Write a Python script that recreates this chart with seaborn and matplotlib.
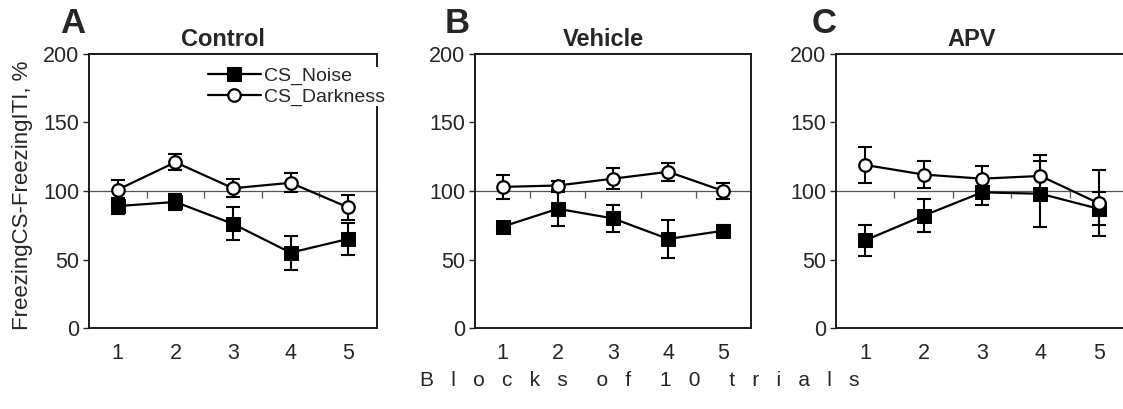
import matplotlib
matplotlib.use("Agg")
import matplotlib.pyplot as plt
import seaborn as sns
import numpy as np

# ---- data ----
blocks = [1, 2, 3, 4, 5]
panels = ["Control", "Vehicle", "APV"]
letters = ["A", "B", "C"]
series_names = ["CS_Noise", "CS_Darkness"]

control_noise = [89, 92, 76, 55, 65]
control_noise_err = [6, 6, 12, 12.5, 12]
control_dark = [101, 121, 102, 106, 88]
control_dark_err = [7, 6, 6.5, 7, 9]

vehicle_noise = [74, 87, 80, 65, 71]
vehicle_noise_err = [3, 12.5, 10, 14, 4]
vehicle_dark = [103, 104, 109, 114, 100]
vehicle_dark_err = [9, 3, 7.5, 6.5, 5.5]

apv_noise = [64, 82, 99, 98, 87]
apv_noise_err = [11.5, 12, 9.5, 24, 12]
apv_dark = [119, 112, 109, 111, 91]
apv_dark_err = [13, 10, 9, 15, 24]

yticks = [0, 50, 100, 150, 200]
boundary_ticks = [1.5, 2.5, 3.5, 4.5]
ylabel = "FreezingCS-FreezingITI, %"
xlabel = "B   l   o   c   k   s     o   f     1   0     t   r   i   a   l   s"

noise_data = [(control_noise, control_noise_err), (vehicle_noise, vehicle_noise_err), (apv_noise, apv_noise_err)]
dark_data = [(control_dark, control_dark_err), (vehicle_dark, vehicle_dark_err), (apv_dark, apv_dark_err)]

# ---- style ----
sns.set_theme(style="white")
plt.rcParams["font.family"] = ["Liberation Sans", "DejaVu Sans"]

W, H = 1123, 409
fig = plt.figure(figsize=(W / 100, H / 100), dpi=100)

# axes boxes in pixels: (left, right, top, bottom)
boxes = [(89, 377, 54, 328), (475, 751, 54, 328), (836, 1128, 54, 328)]
letter_x = [60, 445, 812]

for i, (name, box) in enumerate(zip(panels, boxes)):
    l, r, t, b = box
    ax = fig.add_axes([l / W, 1 - b / H, (r - l) / W, (b - t) / H])
    (nv, ne), (dv, de) = noise_data[i], dark_data[i]

    ax.errorbar(blocks, nv, yerr=ne, fmt="none", ecolor="black", elinewidth=1.5,
                capsize=5, capthick=1.5, zorder=2)
    ax.errorbar(blocks, dv, yerr=de, fmt="none", ecolor="black", elinewidth=1.5,
                capsize=5, capthick=1.5, zorder=2)
    sns.lineplot(x=blocks, y=nv, ax=ax, color="black", lw=1.6, marker="s",
                 markersize=9.5, markerfacecolor="black", markeredgecolor="black",
                 label=series_names[0] if i == 0 else None, legend=False, zorder=3)
    sns.lineplot(x=blocks, y=dv, ax=ax, color="black", lw=1.6, marker="o",
                 markersize=9, markerfacecolor="white", markeredgecolor="black",
                 markeredgewidth=1.6,
                 label=series_names[1] if i == 0 else None, legend=False, zorder=4)

    ax.set_xlim(0.5, 5.5)
    ax.set_ylim(0, 200)
    ax.set_yticks(yticks)
    ax.set_xticks(blocks)
    ax.tick_params(axis="x", length=0, pad=11, labelsize=15.5)
    ax.tick_params(axis="y", direction="out", length=4, width=1, pad=3,
                   labelsize=15.5, left=True)
    for s in ax.spines.values():
        s.set_color("#1a1a1a")
        s.set_linewidth(1.4)
    ax.set_xlabel("")
    ax.set_ylabel("")

    # horizontal axis crossing at 100, ticks between categories
    sec = ax.secondary_xaxis(0.5)
    sec.set_xticks(boundary_ticks)
    sec.xaxis.set_ticks_position("bottom")
    sec.tick_params(which="both", direction="out", length=5, width=0.9,
                    color="#555555", labelbottom=False, labeltop=False)
    for s in sec.spines.values():
        s.set_color("#555555")
        s.set_linewidth(0.9)

    ax.set_title(name, fontsize=17, fontweight="bold", x=0.465, pad=6)
    fig.text(letter_x[i] / W, 1 - 33 / H, letters[i], fontsize=25,
             fontweight="bold", ha="left", va="baseline")

    if i == 0:
        ax.set_ylabel(ylabel, fontsize=16)
        ax.yaxis.label.set_va("center")
        ax.yaxis.set_label_coords((23 - l) / (r - l), (b - 195) / (b - t))
        leg = ax.legend(loc="upper left", bbox_to_anchor=((208 - l) / (r - l), (b - 67) / (b - t)),
                        frameon=True, fontsize=14, handlelength=2.7, handletextpad=0.2,
                        labelspacing=0.15, borderpad=0.0, borderaxespad=0.0)
        leg.get_frame().set_facecolor("white")
        leg.get_frame().set_edgecolor("none")
        leg.get_frame().set_alpha(1)

fig.text(640 / W, 1 - 380 / H, xlabel, fontsize=15, ha="center", va="center")

fig.savefig("out.png", dpi=100, facecolor="white")
